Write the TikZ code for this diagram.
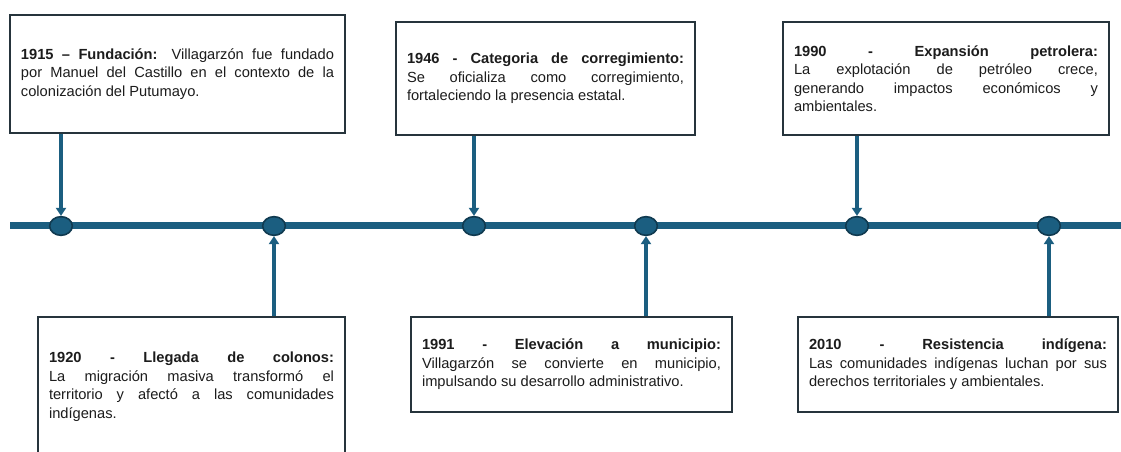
\documentclass[tikz,border=0pt]{standalone}
\usepackage{fontspec}
\setmainfont{Liberation Sans}
\usetikzlibrary{arrows.meta,shapes.geometric}
\definecolor{teal1}{RGB}{27,94,128}
\definecolor{tealdark}{RGB}{16,58,80}
\definecolor{boxborder}{RGB}{38,52,60}
\definecolor{txt}{RGB}{28,28,28}
\hbadness=10000
\tolerance=10000
\tikzset{
 evbox/.style={draw=boxborder, line width=1.5pt, fill=white, rectangle, inner xsep=8.25pt, inner ysep=0pt, align=justify, font=\fontsize{11}{13.9}\selectfont, text=txt},
 dot/.style={ellipse, draw=tealdark, line width=1.2pt, fill=teal1, minimum width=17pt, minimum height=14pt, inner sep=0pt},
 link/.style={draw=teal1, line width=2.4pt, -{Triangle[width=7.5pt,length=6pt]}},
 axis/.style={draw=teal1, line width=5.25pt}
}
\begin{document}
\begin{tikzpicture}[x=0.75pt,y=-0.75pt]
\useasboundingbox (0,0) rectangle (1121,452);
\coordinate (L) at (10,226);
\coordinate (R) at (1121,226);
\draw[axis] (L) -- (R);
\node[dot] (c1) at (61,226) {};
\node[dot] (c2) at (274,226) {};
\node[dot] (c3) at (474,226) {};
\node[dot] (c4) at (646,226) {};
\node[dot] (c5) at (857,226) {};
\node[dot] (c6) at (1049,226) {};

\node[evbox, minimum width=251.25pt, minimum height=88.5pt, text width=234.75pt] (b1) at (177.5,74)
 {\textbf{1915 – Fundación:} Villagarzón fue fundado\linebreak por Manuel del Castillo en el contexto de la\linebreak colonización del Putumayo.};
\node[evbox, minimum width=224.25pt, minimum height=84.75pt, text width=207.75pt] (b2) at (545.5,78.5)
 {\textbf{1946 - Categoria de corregimiento:}\linebreak Se oficializa como corregimiento,\linebreak fortaleciendo la presencia estatal.};
\node[evbox, minimum width=244.5pt, minimum height=84.75pt, text width=228pt] (b3) at (946,78.5)
 {\textbf{1990 - Expansión petrolera:}\linebreak La explotación de petróleo crece,\linebreak generando impactos económicos y\linebreak ambientales.};
\node[evbox, minimum width=230.25pt, minimum height=104.25pt, text width=213.75pt] (b4) at (191.5,386.5)
 {\textbf{1920 - Llegada de colonos:}\linebreak La migración masiva transformó el\linebreak territorio y afectó a las comunidades\linebreak indígenas.};
\node[evbox, minimum width=240.75pt, minimum height=71.25pt, text width=224.25pt] (b5) at (571.5,364.5)
 {\textbf{1991 - Elevación a municipio:}\linebreak Villagarzón se convierte en municipio,\linebreak impulsando su desarrollo administrativo.};
\node[evbox, minimum width=240pt, minimum height=71.25pt, text width=223.5pt] (b6) at (958,364.5)
 {\textbf{2010 - Resistencia indígena:}\linebreak Las comunidades indígenas luchan por sus\linebreak derechos territoriales y ambientales.};

\draw[link] (c1 |- b1.south) -- (c1.north);
\draw[link] (c3 |- b2.south) -- (c3.north);
\draw[link] (c5 |- b3.south) -- (c5.north);
\draw[link] (c2 |- b4.north) -- (c2.south);
\draw[link] (c4 |- b5.north) -- (c4.south);
\draw[link] (c6 |- b6.north) -- (c6.south);
\end{tikzpicture}
\end{document}
